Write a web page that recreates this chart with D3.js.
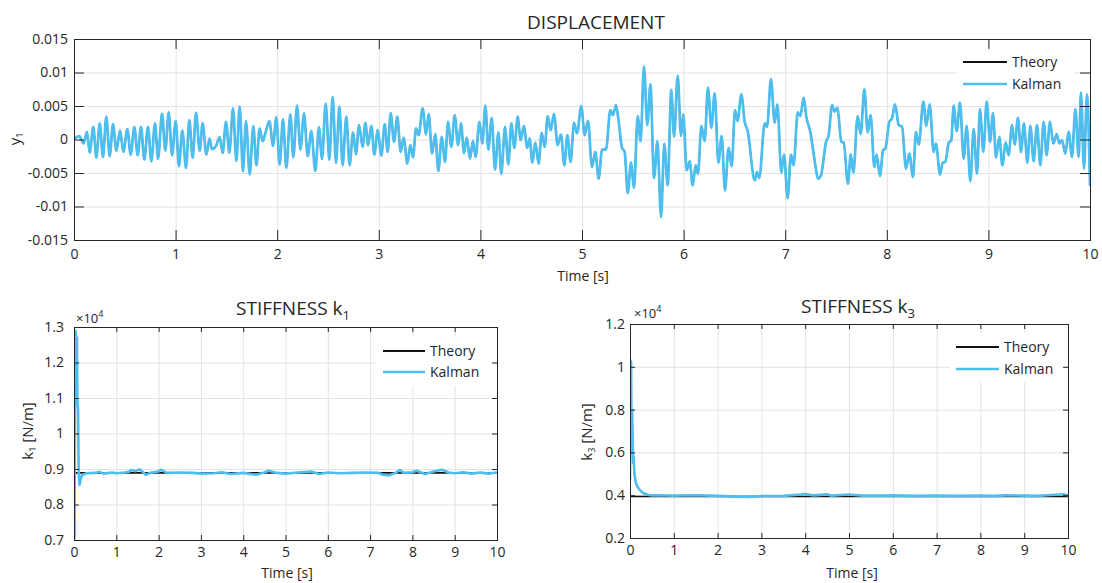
<!DOCTYPE html>
<html><head><meta charset="utf-8">
<script src="https://cdn.jsdelivr.net/npm/d3@7"></script>
<style>
body{margin:0;background:#fff}
svg text{font-family:"Open Sans",sans-serif;fill:#262626}
</style></head>
<body><svg id="c" width="1102" height="583"></svg>
<script>
// ---------------- DATA ----------------
const timeTicks = [0,1,2,3,4,5,6,7,8,9,10];
const timeTickLabels = ["0","1","2","3","4","5","6","7","8","9","10"];
const dispTicks = [-15,-10,-5,0,5,10,15];              // x 1e-3 m
const dispTickLabels = ["-0.015","-0.01","-0.005","0","0.005","0.01","0.015"];
const k1Ticks = [0.7,0.8,0.9,1.0,1.1,1.2,1.3];          // x 1e4 N/m
const k1TickLabels = ["0.7","0.8","0.9","1","1.1","1.2","1.3"];
const k3Ticks = [0.2,0.4,0.6,0.8,1.0,1.2];
const k3TickLabels = ["0.2","0.4","0.6","0.8","1","1.2"];
const seriesNames = ["Theory","Kalman"];

const dispKalman = [
[0,0],[0.007,0.15],[0.052,0.5],[0.095,-0.6],[0.128,1.15],[0.154,-1.95],[0.190,1.9],[0.220,-2.7],[0.253,2.4],[0.285,-2.65],[0.318,3.4],[0.351,-2.5],[0.384,2.3],[0.417,-1.7],[0.453,1.35],[0.486,-1.85],[0.525,1.55],[0.558,-2.25],[0.594,1.85],[0.627,-2.35],[0.659,1.9],[0.692,-3.0],[0.728,1.9],[0.761,-3.25],[0.797,2.4],[0.827,-2.9],[0.866,3.85],[0.899,-1.65],[0.932,4.05],[0.965,-2.35],[1.001,2.75],[1.033,-4.0],[1.066,1.35],[1.102,-4.25],[1.135,2.9],[1.168,-2.75],[1.201,4.0],[1.237,-1.7],[1.266,2.45],[1.302,-2.25],[1.335,0.15],[1.358,-1.45],[1.398,-0.95],[1.434,0.35],[1.463,-2.0],[1.496,2.65],[1.529,-1.95],[1.565,4.65],[1.598,-3.2],[1.631,4.9],[1.663,-4.75],
[1.693,2.75],[1.729,-5.2],[1.765,2.0],[1.795,-3.85],[1.827,1.65],[1.857,-0.25],[1.883,0.9],[1.923,2.75],[1.959,-0.95],[1.991,3.3],[2.024,-3.75],[2.057,3.0],[2.090,-4.25],[2.129,3.75],[2.159,-2.65],[2.195,5.05],[2.228,-1.5],[2.264,3.9],[2.300,-2.5],[2.336,1.25],[2.375,-4.7],[2.411,1.85],[2.441,-2.95],[2.477,5.35],[2.513,-3.0],[2.546,6.35],[2.579,-3.5],[2.612,4.9],[2.644,-3.85],[2.680,3.4],[2.713,-3.85],[2.746,1.05],[2.776,-2.2],[2.805,2.15],[2.841,-1.1],[2.868,2.5],[2.894,-0.85],[2.927,2.05],[2.956,-2.25],[2.989,1.4],[3.025,-2.4],[3.058,2.3],[3.087,-1.85],[3.117,3.95],[3.150,-0.35],[3.182,3.4],[3.215,-1.85],[3.245,0.25],[3.281,-3.6],[3.310,-0.85],[3.337,-2.65],
[3.366,1.65],[3.392,0.65],[3.432,4.65],[3.465,0.75],[3.491,3.8],[3.524,-2.1],[3.556,0.8],[3.586,-4.7],[3.619,0.4],[3.652,-3.35],[3.681,2.65],[3.714,-1.1],[3.747,3.65],[3.780,-0.85],[3.809,2.4],[3.839,-2.05],[3.865,0.3],[3.898,-2.85],[3.927,-0.2],[3.953,-2.6],[3.990,2.65],[4.019,-0.6],[4.049,5.05],[4.078,-1.5],[4.111,3.25],[4.144,-4.5],[4.177,1.05],[4.206,-5.1],[4.242,1.9],[4.275,-3.7],[4.304,2.4],[4.334,-1.25],[4.367,3.4],[4.396,-0.1],[4.429,2.05],[4.459,-1.25],[4.485,0.15],[4.511,-3.45],[4.541,-0.45],[4.573,-3.6],[4.603,1.0],[4.633,-1.1],[4.662,3.5],[4.692,1.4],[4.724,3.8],[4.760,-0.85],[4.793,0.75],[4.826,-3.85],[4.856,0.65],[4.888,-3.35],[4.921,2.5],[4.951,0.9],[4.993,5.0],
[5.026,0.65],[5.059,2.8],[5.098,-4.1],[5.131,-1.85],[5.164,-5.85],[5.197,-1.5],[5.236,-1.5],[5.279,4.4],[5.305,3.65],[5.335,5.15],[5.361,2.65],[5.394,-1.25],[5.420,-1.85],[5.450,-8.0],[5.482,-3.45],[5.512,-7.2],[5.548,3.5],[5.577,-0.25],[5.610,10.9],[5.643,2.15],[5.673,8.25],[5.709,-5.75],[5.742,-0.25],[5.778,-11.6],[5.810,-0.6],[5.843,-6.85],[5.879,7.4],[5.906,0.4],[5.942,9.55],[5.974,0.55],[5.997,3.75],[6.030,-4.6],[6.060,-3.25],[6.089,-6.85],[6.119,-3.85],[6.142,-5.1],[6.175,2.05],[6.207,-0.25],[6.240,7.75],[6.273,1.75],[6.306,6.9],[6.342,-3.45],[6.375,0.5],[6.407,-7.6],[6.443,-1.25],[6.473,-4.0],[6.506,4.4],[6.532,2.75],[6.568,6.75],[6.601,2.65],[6.631,1.25],
[6.700,-6.1],[6.722,-4.85],[6.745,-5.75],[6.798,2.4],[6.821,1.9],[6.860,9.0],[6.896,2.5],[6.923,5.25],[6.962,-4.95],[6.988,-2.25],[7.024,-8.75],[7.057,-2.25],[7.083,-3.85],[7.123,4.05],[7.149,3.5],[7.182,6.25],[7.208,3.4],[7.247,1.15],[7.297,-3.85],[7.323,-5.85],[7.352,-5.35],[7.402,-0.35],[7.428,0.65],[7.461,5.15],[7.487,4.15],[7.513,4.75],[7.553,-0.35],[7.575,-0.45],[7.618,-6.6],[7.645,-2.2],[7.671,-4.95],[7.713,3.5],[7.743,0.8],[7.779,7.5],[7.812,1.05],[7.841,3.65],[7.877,-4.1],[7.900,-2.25],[7.933,-5.45],[7.963,-1.6],[7.986,-1.35],[8.025,2.65],[8.051,3.15],[8.081,5.25],[8.117,2.15],[8.150,1.9],[8.189,-4.35],[8.222,-2.1],[8.258,-5.6],[8.287,1.15],[8.314,-0.75],[8.360,5.65],
[8.389,2.05],[8.422,5.25],[8.461,-1.85],[8.484,-0.6],[8.524,-5.25],[8.550,-3.45],[8.576,-3.35],[8.609,-0.5],[8.635,-0.1],[8.658,5.05],[8.688,1.25],[8.720,5.5],[8.757,-2.85],[8.786,2.05],[8.822,-6.25],[8.855,1.55],[8.888,-5.1],[8.917,4.55],[8.950,-1.85],[8.983,5.65],[9.016,-0.35],[9.045,3.9],[9.075,-2.7],[9.108,0.4],[9.137,-3.85],[9.170,-0.45],[9.199,-2.35],[9.232,2.15],[9.259,-0.75],[9.291,3.25],[9.321,-1.85],[9.350,2.4],[9.383,-3.45],[9.413,2.05],[9.445,-3.25],[9.478,2.15],[9.511,-3.85],[9.544,2.65],[9.573,-2.35],[9.606,2.65],[9.639,-0.6],[9.672,0.8],[9.698,-0.6],[9.724,-0.1],[9.757,-2.1],[9.790,1.15],[9.823,-2.6],[9.856,4.55],[9.888,-2.6],[9.911,7.0],[9.941,-4.35],[9.970,6.75],[10.0,-6.85]
];
// theory displacement coincides with the Kalman estimate at this scale
const dispTheory = dispKalman;

// stiffness k1 [t (s), value (x1e4 N/m)]
const k1Theory = [[0,0.889],[10,0.889]];
const k1Kalman = [
[0,0.70],[0.012,0.71],[0.03,1.29],[0.045,1.28],[0.058,1.24],[0.07,1.27],[0.08,1.09],[0.095,1.07],[0.11,0.90],[0.13,0.855],[0.16,0.872],[0.2,0.884],[0.3,0.888],[0.5,0.889],[0.6,0.892],[0.7,0.887],[0.9,0.890],[1.0,0.888],[1.2,0.890],[1.3,0.892],[1.35,0.897],[1.45,0.894],[1.55,0.899],[1.7,0.884],[1.8,0.889],[2.0,0.893],[2.05,0.898],[2.2,0.889],[2.5,0.890],[2.8,0.889],[3.0,0.887],[3.3,0.888],[3.5,0.891],[3.7,0.886],[4.0,0.889],[4.3,0.884],[4.5,0.890],[4.6,0.895],[4.8,0.889],[5.0,0.887],[5.3,0.890],[5.6,0.893],[5.8,0.886],[6.0,0.890],[6.3,0.888],[6.6,0.889],[6.9,0.890],[7.2,0.889],[7.3,0.884],[7.45,0.882],[7.6,0.889],[7.7,0.897],[7.8,0.889],[8.0,0.891],[8.1,0.895],[8.3,0.886],[8.5,0.893],[8.7,0.898],[8.85,0.890],[9.0,0.888],[9.2,0.891],[9.4,0.887],[9.6,0.890],[9.8,0.887],[10,0.890]
];

// stiffness k3 [t (s), value (x1e4 N/m)]
const k3Theory = [[0,0.394],[10,0.394]];
const k3Kalman = [
[0,0.47],[0.01,1.03],[0.025,1.02],[0.035,0.60],[0.046,0.80],[0.06,0.68],[0.07,0.55],[0.085,0.58],[0.1,0.50],[0.13,0.46],[0.17,0.44],[0.22,0.425],[0.3,0.41],[0.4,0.402],[0.5,0.399],[0.6,0.400],[1.0,0.398],[1.5,0.400],[2.0,0.397],[2.5,0.393],[2.7,0.392],[3.0,0.396],[3.5,0.397],[3.9,0.403],[4.0,0.405],[4.2,0.399],[4.5,0.404],[4.6,0.398],[4.9,0.402],[5.0,0.403],[5.3,0.398],[5.8,0.398],[6.0,0.399],[6.5,0.397],[7.0,0.398],[7.5,0.397],[8.0,0.398],[8.3,0.397],[8.6,0.399],[9.0,0.398],[9.3,0.397],[9.6,0.401],[9.9,0.404],[10,0.400]
];

// ---------------- DRAWING ----------------
const svg = d3.select("#c");
const INK = "#262626", GRID = "#e3e3e3", KAL = "#4DBEEE", THEO = "#111111";
let clipId = 0;

function panel(o){
  const g = svg.append("g");
  const x = d3.scaleLinear().domain([0,10]).range([o.l,o.r]);
  const y = d3.scaleLinear().domain(o.yDomain).range([o.b,o.t]);
  const W = o.r - o.l, H = o.b - o.t;

  // grid
  g.append("g").attr("transform",`translate(0,${o.b})`)
    .call(d3.axisBottom(x).tickValues(timeTicks).tickSize(-H).tickFormat(""))
    .call(s=>{s.select(".domain").remove(); s.selectAll("line").attr("stroke",GRID);});
  g.append("g").attr("transform",`translate(${o.l},0)`)
    .call(d3.axisLeft(y).tickValues(o.yTicks).tickSize(-W).tickFormat(""))
    .call(s=>{s.select(".domain").remove(); s.selectAll("line").attr("stroke",GRID);});

  // data
  const id = "clip"+(clipId++);
  svg.append("clipPath").attr("id",id).append("rect")
    .attr("x",o.l).attr("y",o.t-2).attr("width",W).attr("height",H+4);
  const line = d3.line().x(d=>x(d[0])).y(d=>y(d[1])).curve(o.curve);
  const dg = g.append("g").attr("clip-path",`url(#${id})`);
  dg.append("path").datum(o.theory).attr("d",line).attr("fill","none")
    .attr("stroke",THEO).attr("stroke-width",1.6);
  dg.append("path").datum(o.kalman).attr("d",line).attr("fill","none")
    .attr("stroke",KAL).attr("stroke-width",o.kw).attr("stroke-linejoin","round");

  // legend
  const lg = o.legend;
  g.append("rect").attr("x",lg.bx).attr("y",lg.by).attr("width",lg.bw).attr("height",lg.bh).attr("fill","#fff");
  [THEO,KAL].forEach((c,i)=>{
    const yy = lg.y0 + i*lg.dy;
    g.append("line").attr("x1",lg.x1).attr("x2",lg.x2).attr("y1",yy).attr("y2",yy)
      .attr("stroke",c).attr("stroke-width",i? 2.5:2);
    g.append("text").attr("x",lg.x2+5).attr("y",yy+5).attr("font-size",14).text(seriesNames[i]);
  });

  // axes (inside ticks on all sides)
  const tl = o.tickLen;
  const fix = s=>{s.select(".domain").remove(); s.attr("color",INK).attr("font-family",null).attr("font-size",14);
                  s.selectAll("text").style("fill",INK);};
  g.append("g").attr("transform",`translate(0,${o.b})`)
    .call(d3.axisBottom(x).tickValues(timeTicks).tickSizeInner(-tl).tickSizeOuter(0)
      .tickPadding(o.xPad).tickFormat((d,i)=>timeTickLabels[i])).call(fix);
  g.append("g").attr("transform",`translate(0,${o.t})`)
    .call(d3.axisTop(x).tickValues(timeTicks).tickSizeInner(-tl).tickSizeOuter(0).tickFormat("")).call(fix);
  g.append("g").attr("transform",`translate(${o.l},0)`)
    .call(d3.axisLeft(y).tickValues(o.yTicks).tickSizeInner(-tl).tickSizeOuter(0)
      .tickPadding(o.yPad).tickFormat((d,i)=>o.yLabels[i])).call(fix);
  g.append("g").attr("transform",`translate(${o.r},0)`)
    .call(d3.axisRight(y).tickValues(o.yTicks).tickSizeInner(-tl).tickSizeOuter(0).tickFormat("")).call(fix);
  g.append("rect").attr("x",o.l+0.5).attr("y",o.t+0.5).attr("width",W).attr("height",H)
    .attr("fill","none").attr("stroke",INK).attr("stroke-width",1);

  // title
  const t = g.append("text").attr("x",o.titleX).attr("y",o.titleY).attr("text-anchor","middle").attr("font-size",19);
  t.append("tspan").text(o.title);
  if(o.titleSub){ t.append("tspan").attr("font-size",13).attr("dy",5).text(o.titleSub); }

  // x label
  g.append("text").attr("x",o.xlabX).attr("y",o.xlabY).attr("text-anchor","middle").attr("font-size",14).text("Time [s]");

  // y label
  const yl = g.append("text").attr("transform",`translate(${o.ylabX},${o.ylabY}) rotate(-90)`)
    .attr("text-anchor","middle").attr("font-size",15);
  yl.append("tspan").text(o.ylab[0]);
  yl.append("tspan").attr("font-size",9).attr("dy",3).text(o.ylab[1]);
  yl.append("tspan").attr("dy",-3).text(o.ylab[2]);

  // exponent
  if(o.expo){
    const e = g.append("text").attr("x",o.expo[0]).attr("y",o.expo[1]).attr("font-size",13);
    e.append("tspan").text("×10");
    e.append("tspan").attr("font-size",9).attr("dy",-6).text("4");
  }
}

panel({l:74,r:1090,t:39,b:240,yDomain:[-15,15],yTicks:dispTicks,yLabels:dispTickLabels,
  theory:dispTheory,kalman:dispKalman,curve:d3.curveMonotoneX,kw:2.7,tickLen:10,xPad:9,yPad:6,
  legend:{bx:957,by:47,bw:117,bh:50,x1:963,x2:1007,y0:62,dy:22},
  title:"DISPLACEMENT",titleX:596,titleY:29,xlabX:583,xlabY:281,
  ylab:["y","1",""],ylabX:20,ylabY:139});

panel({l:74,r:497,t:327,b:540,yDomain:[0.7,1.3],yTicks:k1Ticks,yLabels:k1TickLabels,
  theory:k1Theory,kalman:k1Kalman,curve:d3.curveLinear,kw:2.6,tickLen:5,xPad:7,yPad:10,
  legend:{bx:377,by:337,bw:117,bh:49,x1:383,x2:425,y0:351,dy:21},
  title:"STIFFNESS k",titleSub:"1",titleX:293,titleY:315,xlabX:287,xlabY:578,
  ylab:["k","1","  [N/m]"],ylabX:33,ylabY:431,expo:[76,323]});

panel({l:630,r:1068,t:324,b:538,yDomain:[0.2,1.2],yTicks:k3Ticks,yLabels:k3TickLabels,
  theory:k3Theory,kalman:k3Kalman,curve:d3.curveLinear,kw:2.6,tickLen:5,xPad:7,yPad:5,
  legend:{bx:950,by:333,bw:113,bh:49,x1:956,x2:999,y0:347,dy:22},
  title:"STIFFNESS k",titleSub:"3",titleX:858,titleY:313,xlabX:852,xlabY:578,
  ylab:["k","3","  [N/m]"],ylabX:592,ylabY:432,expo:[634,318]});
</script></body></html>
